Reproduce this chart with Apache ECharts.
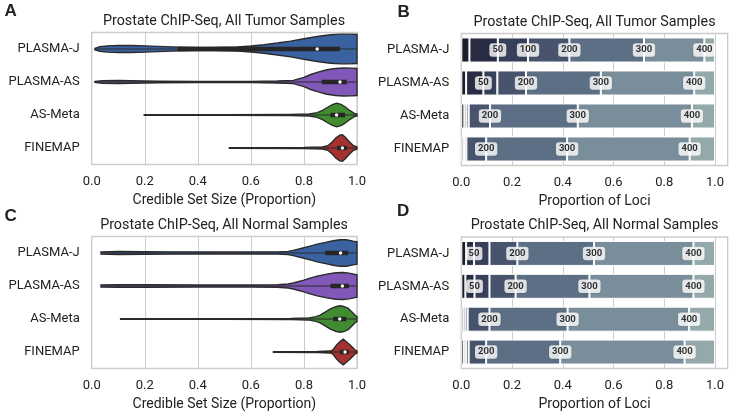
<!DOCTYPE html>
<html><head><meta charset="utf-8">
<script src="https://cdn.jsdelivr.net/npm/echarts@6/dist/echarts.min.js"></script>
<style>html,body{margin:0;padding:0;background:#fff}#c{width:736px;height:420px}</style>
</head><body><div id="c"></div>
<script>
// ---------- data ----------
const categories = ['PLASMA-J', 'PLASMA-AS', 'AS-Meta', 'FINEMAP'];
const tumorTitle = 'Prostate ChIP-Seq, All Tumor Samples';
const normalTitle = 'Prostate ChIP-Seq, All Normal Samples';
const violinAxisName = 'Credible Set Size (Proportion)';
const barAxisName = 'Proportion of Loci';
const panelLetters = ['A', 'B', 'C', 'D'];
const violinColors = ['#3b62a0', '#8157b7', '#418b30', '#a53131'];

// violin profiles: [x, half-width as fraction of category band]
const tumorViolinPlasmaJ = [[0.012,0.02],[0.03,0.07],[0.06,0.095],[0.1,0.105],[0.15,0.105],[0.2,0.095],[0.25,0.08],[0.3,0.065],[0.35,0.055],[0.4,0.05],[0.45,0.05],[0.5,0.055],[0.55,0.065],[0.6,0.09],[0.65,0.13],[0.7,0.18],[0.75,0.24],[0.8,0.31],[0.85,0.38],[0.9,0.43],[0.94,0.45],[0.97,0.45],[1.0,0.44]];
const tumorViolinPlasmaAS = [[0.012,0.015],[0.04,0.04],[0.1,0.045],[0.15,0.04],[0.2,0.03],[0.25,0.022],[0.4,0.018],[0.6,0.02],[0.7,0.03],[0.76,0.05],[0.8,0.14],[0.823,0.22],[0.85,0.29],[0.886,0.37],[0.92,0.41],[0.95,0.425],[0.98,0.42],[1.0,0.41]];
const tumorViolinASMeta = [[0.198,0.012],[0.5,0.012],[0.75,0.018],[0.82,0.03],[0.85,0.07],[0.87,0.14],[0.886,0.22],[0.905,0.31],[0.923,0.36],[0.94,0.32],[0.955,0.25],[0.974,0.13],[0.99,0.05],[1.0,0.03]];
const tumorViolinFinemap = [[0.519,0.012],[0.8,0.015],[0.87,0.03],[0.89,0.07],[0.905,0.17],[0.92,0.3],[0.935,0.39],[0.945,0.4],[0.955,0.33],[0.97,0.2],[0.985,0.08],[1.0,0.03]];
const normalViolinPlasmaJ = [[0.035,0.03],[0.1,0.045],[0.2,0.04],[0.3,0.035],[0.5,0.03],[0.7,0.035],[0.74,0.05],[0.76,0.08],[0.8,0.16],[0.823,0.21],[0.85,0.27],[0.886,0.33],[0.91,0.37],[0.936,0.4],[0.96,0.4],[0.985,0.36],[1.0,0.34]];
const normalViolinPlasmaAS = [[0.035,0.03],[0.1,0.04],[0.2,0.04],[0.4,0.03],[0.6,0.03],[0.7,0.04],[0.74,0.06],[0.76,0.09],[0.8,0.18],[0.823,0.24],[0.85,0.3],[0.886,0.36],[0.92,0.4],[0.948,0.41],[0.97,0.39],[1.0,0.34]];
const normalViolinASMeta = [[0.109,0.012],[0.5,0.012],[0.75,0.02],[0.82,0.035],[0.845,0.07],[0.861,0.12],[0.88,0.21],[0.898,0.3],[0.92,0.37],[0.936,0.4],[0.95,0.38],[0.967,0.32],[0.98,0.22],[0.992,0.12],[1.0,0.07]];
const normalViolinFinemap = [[0.685,0.012],[0.85,0.015],[0.9,0.03],[0.91,0.07],[0.923,0.21],[0.935,0.31],[0.948,0.39],[0.96,0.31],[0.974,0.21],[0.993,0.06],[1.0,0.03]];

// inner box statistics
const tumorQ1 = [0.325, 0.867, 0.900, 0.925];
const tumorMedian = [0.850, 0.936, 0.923, 0.945];
const tumorQ3 = [0.935, 0.961, 0.955, 0.962];
const normalQ1 = [0.880, 0.900, 0.910, 0.935];
const normalMedian = [0.938, 0.945, 0.935, 0.955];
const normalQ3 = [0.967, 0.970, 0.960, 0.970];

// stacked bars: cumulative boundaries per category (credible-set-size thresholds)
const boundaryLabels = ['', '50', '100', '200', '300', '400'];
const tumorBounds = [
  [0.032, 0.144, 0.263, 0.426, 0.720, 0.958],
  [0.019, 0.087, 0.142, 0.255, 0.550, 0.918],
  [0.012, 0.020, 0.029, 0.113, 0.459, 0.909],
  [0.008, 0.013, 0.020, 0.098, 0.417, 0.900]
];
const normalBounds = [
  [0.019, 0.050, 0.111, 0.221, 0.523, 0.915],
  [0.016, 0.052, 0.111, 0.214, 0.505, 0.915],
  [0.008, 0.016, 0.025, 0.111, 0.419, 0.898],
  [0.010, 0.019, 0.029, 0.098, 0.390, 0.880]
];
const tumorLabelShown = [[0,1,1,1,1,1],[0,1,0,1,1,1],[0,0,0,1,1,1],[0,0,0,1,1,1]];
const normalLabelShown = [[0,1,0,1,1,1],[0,1,0,1,1,1],[0,0,0,1,1,1],[0,0,0,1,1,1]];
const segmentColors = ['#1c1e2d', '#292d44', '#373f5a', '#48546e', '#5d6f84', '#798e9a', '#94aaaa'];

// ---------- chart ----------
const FONT = 'Roboto';
const TEXT = '#222';
const chart = echarts.init(document.getElementById('c'), null, {renderer: 'canvas'});

function violinSeries(axisIdx, profiles, q1, med, q3) {
  return {
    type: 'custom', xAxisIndex: axisIdx, yAxisIndex: axisIdx, clip: true, silent: true,
    data: categories.map((c, i) => [med[i], i]),
    encode: {x: 0, y: 1},
    renderItem: function (params, api) {
      const i = params.dataIndex;
      const prof = profiles[i];
      const cy = api.coord([0, i])[1];
      const band = api.size([0, 1])[1];
      const top = prof.map(p => [api.coord([p[0], i])[0], cy - p[1] * band]);
      const bot = prof.slice().reverse().map(p => [api.coord([p[0], i])[0], cy + p[1] * band]);
      const x0 = api.coord([prof[0][0], i])[0];
      const x1 = api.coord([prof[prof.length - 1][0], i])[0];
      const xq1 = api.coord([q1[i], i])[0];
      const xq3 = api.coord([q3[i], i])[0];
      const xm = api.coord([med[i], i])[0];
      return {
        type: 'group',
        children: [
          {type: 'polygon', shape: {points: top.concat(bot)},
           style: {fill: violinColors[i], stroke: '#2b2b2b', lineWidth: 1.4}},
          {type: 'line', shape: {x1: x0, y1: cy, x2: x1, y2: cy},
           style: {stroke: '#2a2a2a', lineWidth: 1.2}},
          {type: 'line', shape: {x1: xq1, y1: cy, x2: xq3, y2: cy},
           style: {stroke: '#262626', lineWidth: 4.6, lineCap: 'butt'}},
          {type: 'circle', shape: {cx: xm, cy: cy, r: 1.7}, style: {fill: '#fff'}}
        ]
      };
    }
  };
}

function barSeries(axisIdx, bounds, stackName) {
  const out = [];
  for (let s = 0; s < segmentColors.length; s++) {
    out.push({
      type: 'bar', xAxisIndex: axisIdx, yAxisIndex: axisIdx, stack: stackName, silent: true,
      barWidth: '76%',
      itemStyle: {color: segmentColors[s], borderColor: '#ffffff', borderWidth: 1},
      data: bounds.map(row => {
        const lo = s === 0 ? 0 : row[s - 1];
        const hi = s < row.length ? row[s] : 1.0;
        return +(hi - lo).toFixed(4);
      })
    });
  }
  return out;
}

function labelSeries(axisIdx, bounds, shown) {
  const data = [];
  bounds.forEach((row, r) => row.forEach((b, k) => {
    if (shown[r][k]) data.push([b, r, boundaryLabels[k]]);
  }));
  return {
    type: 'scatter', xAxisIndex: axisIdx, yAxisIndex: axisIdx, silent: true, z: 10,
    symbol: 'circle', symbolSize: 1, itemStyle: {color: 'rgba(0,0,0,0)'},
    data: data,
    label: {
      show: true, position: 'inside', formatter: p => p.value[2],
      fontFamily: FONT, fontSize: 9.5, color: '#000', fontWeight: 'bold',
      backgroundColor: '#ffffff', borderRadius: 3, padding: [2, 3, 1.5, 3],
      borderColor: 'rgba(0,0,0,0.12)', borderWidth: 0.6
    },
    labelLayout: {hideOverlap: false}
  };
}

function xAxisOf(gridIndex, isBar, name) {
  return {
    type: 'value', gridIndex: gridIndex, min: 0, max: isBar ? 1.05 : 1, interval: 0.2,
    axisLine: {show: false}, axisTick: {show: false},
    splitLine: {show: true, lineStyle: {color: '#cccccc', width: 1}},
    axisLabel: {fontFamily: FONT, fontSize: 13, color: TEXT, margin: 11,
      formatter: v => (v > 1.0001 ? '' : v.toFixed(1)), showMaxLabel: !isBar},
    name: name, nameLocation: 'middle', nameGap: 29,
    nameTextStyle: {fontFamily: FONT, fontSize: 14, color: TEXT}
  };
}
function yAxisOf(gridIndex) {
  return {
    type: 'category', gridIndex: gridIndex, data: categories, inverse: true,
    axisLine: {show: false}, axisTick: {show: false}, splitLine: {show: false},
    axisLabel: {fontFamily: FONT, fontSize: 13, color: TEXT, margin: 12}
  };
}
const gridBase = {show: true, borderColor: '#cccccc', borderWidth: 1.3, containLabel: false};

function txt(x, y, text, font, align) {
  return {type: 'text', x: x, y: y, silent: true,
    style: {text: text, font: font, fill: TEXT, textAlign: align, textVerticalAlign: 'middle'}};
}

const option = {
  animation: false,
  textStyle: {fontFamily: FONT},
  grid: [
    Object.assign({left: 91.7, top: 32.5, width: 265.3, height: 132}, gridBase),
    Object.assign({left: 461.3, top: 33.5, width: 266.4, height: 132}, gridBase),
    Object.assign({left: 91.7, top: 236.5, width: 265.3, height: 132}, gridBase),
    Object.assign({left: 461.3, top: 237, width: 266.4, height: 131.5}, gridBase)
  ],
  xAxis: [xAxisOf(0, false, violinAxisName), xAxisOf(1, true, barAxisName),
          xAxisOf(2, false, violinAxisName), xAxisOf(3, true, barAxisName)],
  yAxis: [yAxisOf(0), yAxisOf(1), yAxisOf(2), yAxisOf(3)],
  graphic: [
    txt(224, 21.7, tumorTitle, '14.3px Roboto', 'center'),
    txt(594.5, 22.3, tumorTitle, '14.3px Roboto', 'center'),
    txt(224, 225, normalTitle, '14.3px Roboto', 'center'),
    txt(594.5, 225, normalTitle, '14.3px Roboto', 'center'),
    txt(4.5, 11, panelLetters[0], 'bold 17px "Liberation Sans"', 'left'),
    txt(397.5, 12, panelLetters[1], 'bold 17px "Liberation Sans"', 'left'),
    txt(4.5, 216, panelLetters[2], 'bold 17px "Liberation Sans"', 'left'),
    txt(397, 211, panelLetters[3], 'bold 17px "Liberation Sans"', 'left')
  ],
  series: [].concat(
    violinSeries(0, [tumorViolinPlasmaJ, tumorViolinPlasmaAS, tumorViolinASMeta, tumorViolinFinemap], tumorQ1, tumorMedian, tumorQ3),
    violinSeries(2, [normalViolinPlasmaJ, normalViolinPlasmaAS, normalViolinASMeta, normalViolinFinemap], normalQ1, normalMedian, normalQ3),
    barSeries(1, tumorBounds, 'tumor'),
    barSeries(3, normalBounds, 'normal'),
    labelSeries(1, tumorBounds, tumorLabelShown),
    labelSeries(3, normalBounds, normalLabelShown)
  )
};
chart.setOption(option);
</script>
</body></html>
